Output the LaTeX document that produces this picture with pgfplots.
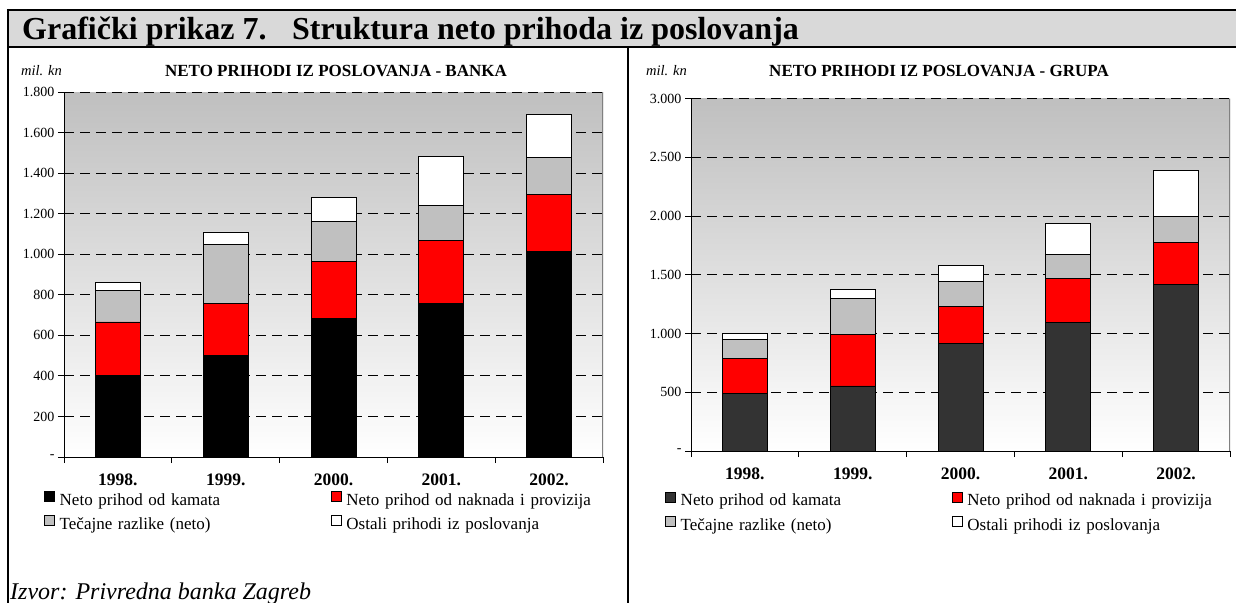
\documentclass[border=0pt]{standalone}
\usepackage{fontspec}
\setmainfont{Liberation Serif}
\usepackage{pgfplots}
\pgfplotsset{compat=1.18}

\definecolor{hdr}{HTML}{D9D9D9}
\definecolor{sivo}{HTML}{C0C0C0}
\definecolor{crv}{HTML}{FF0000}
\definecolor{tamno}{HTML}{333333}
\newcommand{\fs}[1]{\fontsize{#1bp}{#1bp}\selectfont}

\pgfplotsset{
  prihodi/.style={
    scale only axis, width=539bp,
    ybar stacked, bar width=45bp,
    xmin=-0.5, xmax=4.5, ymin=0,
    xtick={-0.5,0.5,...,4.5},
    xticklabels={1998.,1999.,2000.,2001.,2002.},
    x tick label as interval,
    xticklabel style={font=\fs{17.5}\bfseries, yshift=-7bp},
    yticklabel style={font=\fs{14}},
    axis lines*=left, axis line style={-, black, line width=0.8bp},
    tick align=outside, major tick length=6bp,
    tick style={black, line width=0.8bp},
    ymajorgrids,
    grid style={black, line width=0.8bp, dash pattern=on 10bp off 6bp},
    axis background/.style={top color=gray!50, bottom color=white},
    legend columns=2,
    legend cell align=left,
    legend image code/.code={\draw[##1, line width=0.7bp] (0bp,0bp) rectangle (10bp,10bp);},
    legend style={draw=none, fill=none, inner sep=0pt, outer sep=0pt,
      anchor=north west, font=\fs{17},
      nodes={inner sep=0pt, text height=12bp, text depth=4bp, text width=271bp, align=left},
      /tikz/row sep=6bp,
      /tikz/every odd column/.append style={column sep=5bp}},
    every axis plot/.append style={draw=black, line width=0.8bp},
  }
}

\begin{document}
\begin{tikzpicture}
\useasboundingbox (0,0) rectangle (1236bp,-603bp);

% okvir i zaglavlje
\fill[hdr] (8bp,-10bp) rectangle (1236bp,-47bp);
\draw[line width=2.5bp] (6.75bp,-10bp) -- (1236bp,-10bp);
\draw[line width=2.5bp] (8bp,-47bp) -- (1236bp,-47bp);
\draw[line width=2.5bp] (8bp,-8.75bp) -- (8bp,-603bp);
\draw[line width=2.5bp] (628bp,-47bp) -- (628bp,-603bp);

\node[anchor=base west, font=\fs{32}\bfseries, inner sep=0] at (22bp,-39bp) {Grafički prikaz 7.};
\node[anchor=base west, font=\fs{32}\bfseries, inner sep=0] at (292bp,-39bp) {Struktura neto prihoda iz poslovanja};

\node[anchor=base west, font=\fs{14.5}\itshape, inner sep=0] at (21bp,-75bp) {mil. kn};
\node[anchor=base, font=\fs{17}\bfseries, inner sep=0] at (336bp,-76bp) {NETO PRIHODI IZ POSLOVANJA - BANKA};
\node[anchor=base west, font=\fs{14.5}\itshape, inner sep=0] at (646bp,-75bp) {mil. kn};
\node[anchor=base, font=\fs{17}\bfseries, inner sep=0] at (939bp,-76bp) {NETO PRIHODI IZ POSLOVANJA - GRUPA};

\node[anchor=base west, font=\fs{24}\itshape, inner sep=0] at (10bp,-599bp) {Izvor: Privredna banka Zagreb};

% Banka
\begin{axis}[prihodi, at={(64bp,-457bp)}, anchor=south west,
  height=365bp, ymax=1800,
  ytick={0,200,...,1800},
  yticklabels={-,200,400,600,800,1.000,1.200,1.400,1.600,1.800},
  legend style={at={(-0.0371,-0.093)}}]
\addplot[fill=black] coordinates {(0,402) (1,501) (2,685) (3,756) (4,1013)};
\addplot[fill=crv] coordinates {(0,264) (1,258) (2,280) (3,313) (4,284)};
\addplot[fill=sivo] coordinates {(0,155) (1,290) (2,195) (3,170) (4,180)};
\addplot[fill=white] coordinates {(0,38) (1,61) (2,119) (3,243) (4,211)};
\legend{Neto prihod od kamata, Neto prihod od naknada i provizija,
  Tečajne razlike (neto), Ostali prihodi iz poslovanja}
\draw[gray, line width=1.2bp] (rel axis cs:1,0) -- (rel axis cs:1,1);
\end{axis}

% Grupa
\begin{axis}[prihodi, at={(691bp,-451bp)}, anchor=south west,
  height=352.5bp, ymax=3000,
  ytick={0,500,...,3000},
  yticklabels={-,500,1.000,1.500,2.000,2.500,3.000},
  legend style={at={(-0.0482,-0.115)}}]
\addplot[fill=tamno] coordinates {(0,489) (1,554) (2,912) (3,1097) (4,1418)};
\addplot[fill=crv] coordinates {(0,298) (1,435) (2,318) (3,372) (4,355)};
\addplot[fill=sivo] coordinates {(0,159) (1,306) (2,210) (3,202) (4,221)};
\addplot[fill=white] coordinates {(0,51) (1,80) (2,140) (3,267) (4,393)};
\legend{Neto prihod od kamata, Neto prihod od naknada i provizija,
  Tečajne razlike (neto), Ostali prihodi iz poslovanja}
\draw[gray, line width=1.2bp] (rel axis cs:1,0) -- (rel axis cs:1,1);
\end{axis}
\end{tikzpicture}
\end{document}
